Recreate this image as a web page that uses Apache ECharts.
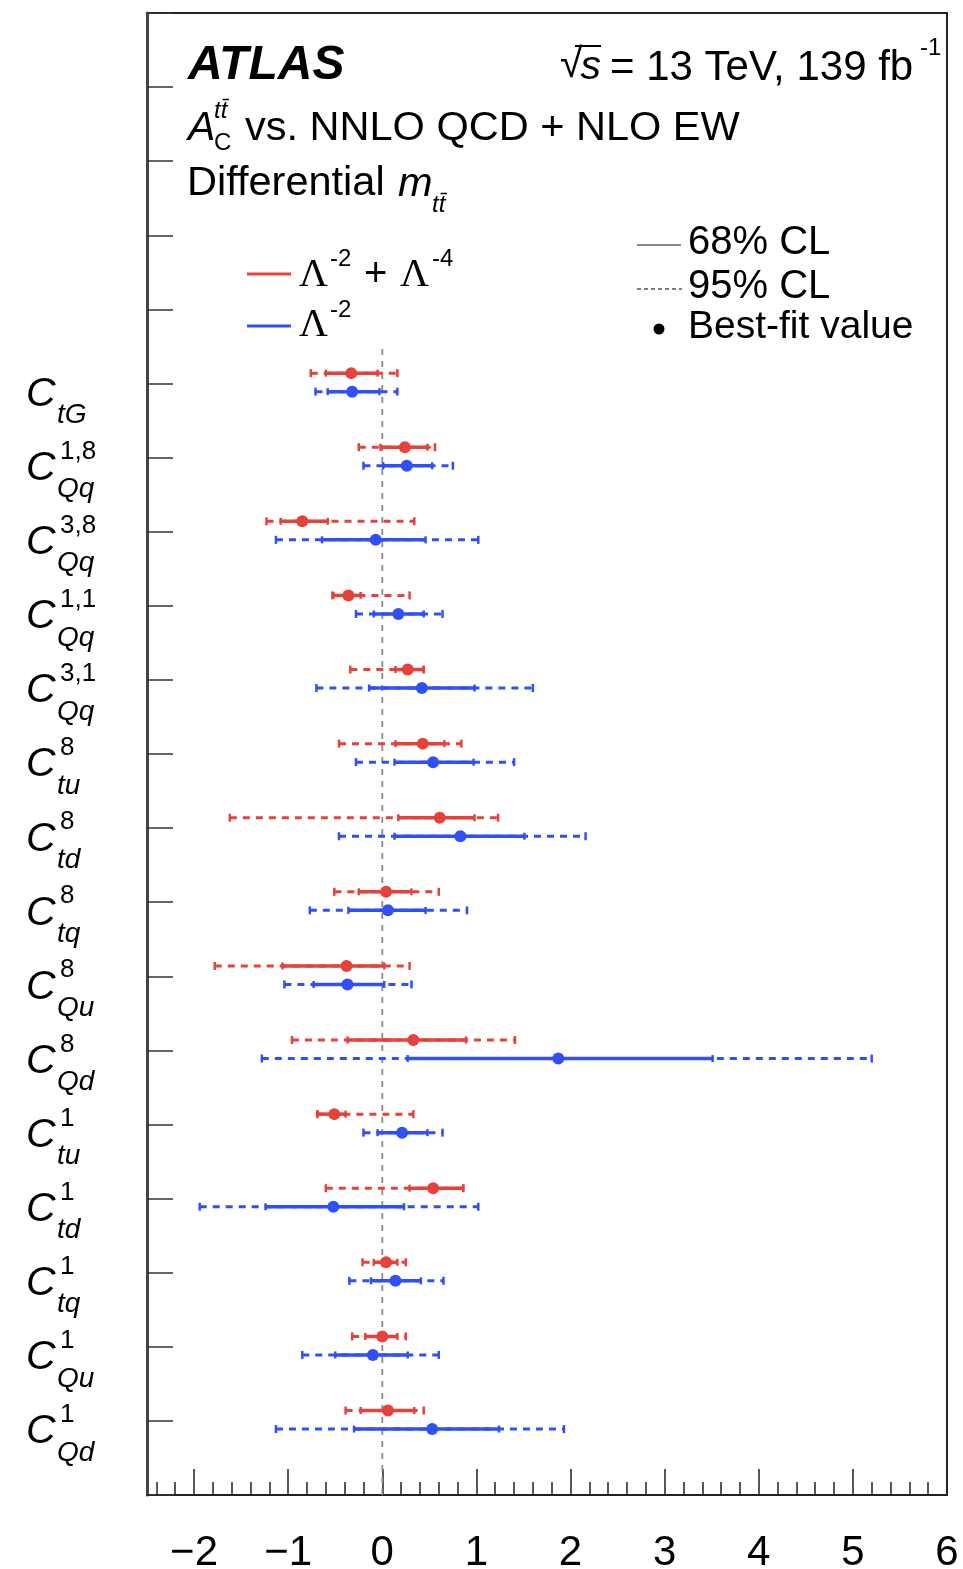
<!doctype html>
<html lang="en">
  <head>
    <meta charset="UTF-8" />
    <title>SMEFT limits</title>
    <script src="https://cdn.jsdelivr.net/npm/echarts@6/dist/echarts.min.js"></script>
    <style>
      html, body { margin: 0; padding: 0; background: #fff; }
    </style>
  </head>
  <body>
    <div id="chart" style="width: 963px; height: 1569px"></div>
    <script>
      // coefficient labels, top to bottom
      const coefSup = ['', '1,8', '3,8', '1,1', '3,1', '8', '8', '8', '8', '8', '1', '1', '1', '1', '1'];
      const coefSub = ['tG', 'Qq', 'Qq', 'Qq', 'Qq', 'tu', 'td', 'tq', 'Qu', 'Qd', 'tu', 'td', 'tq', 'Qu', 'Qd'];
      const rowPos = [15, 14, 13, 12, 11, 10, 9, 8, 7, 6, 5, 4, 3, 2, 1];

      // Lambda^-2 + Lambda^-4 (red)
      const quadBest = [-0.33, 0.24, -0.85, -0.36, 0.27, 0.43, 0.61, 0.04, -0.38, 0.33, -0.51, 0.54, 0.04, 0.0, 0.06];
      const quadLo68 = [-0.6, -0.02, -1.08, -0.52, 0.14, 0.14, 0.17, -0.25, -1.06, -0.37, -0.69, 0.29, -0.09, -0.18, -0.23];
      const quadHi68 = [-0.05, 0.48, -0.58, -0.23, 0.44, 0.66, 0.98, 0.31, 0.02, 0.89, -0.39, 0.86, 0.16, 0.16, 0.34];
      const quadLo95 = [-0.76, -0.25, -1.23, -0.53, -0.34, -0.46, -1.62, -0.51, -1.78, -0.96, -0.69, -0.6, -0.21, -0.32, -0.39];
      const quadHi95 = [0.16, 0.56, 0.34, 0.29, 0.44, 0.84, 1.23, 0.6, 0.29, 1.41, 0.33, 0.86, 0.25, 0.25, 0.44];

      // Lambda^-2 only (blue)
      const linBest = [-0.32, 0.26, -0.07, 0.17, 0.42, 0.54, 0.83, 0.06, -0.37, 1.87, 0.21, -0.52, 0.14, -0.1, 0.53];
      const linLo68 = [-0.58, 0.01, -0.64, -0.09, -0.14, 0.13, 0.13, -0.36, -0.73, 0.27, -0.05, -1.24, -0.12, -0.5, -0.3];
      const linHi68 = [-0.03, 0.53, 0.46, 0.44, 0.98, 0.97, 1.51, 0.46, 0.02, 3.51, 0.48, 0.23, 0.41, 0.27, 1.24];
      const linLo95 = [-0.71, -0.2, -1.13, -0.28, -0.7, -0.28, -0.46, -0.77, -1.04, -1.28, -0.2, -1.94, -0.35, -0.85, -1.13];
      const linHi95 = [0.16, 0.75, 1.02, 0.64, 1.6, 1.4, 2.16, 0.9, 0.31, 5.2, 0.64, 1.02, 0.65, 0.6, 1.93];

      const xTicks = [-2, -1, 0, 1, 2, 3, 4, 5, 6];

      const RED = '#e6413a';
      const BLUE = '#3050f5';
      const SANS = '"Liberation Sans", Arial, Helvetica, sans-serif';
      const SERIF = '"Liberation Serif", "Times New Roman", serif';

      const minorTicks = [];
      for (let k = -24; k <= 60; k += 2) {
        if (k % 10 !== 0) minorTicks.push(k / 10);
      }

      function buildRows(best, lo68, hi68, lo95, hi95, shift) {
        return rowPos.map((p, i) => [best[i], p + shift, lo95[i], hi95[i], lo68[i], hi68[i]]);
      }

      function errorBars(color) {
        return function (params, api) {
          const y = api.value(1);
          const pt = (v) => api.coord([v, y]);
          const b = pt(api.value(0));
          const a95 = pt(api.value(2));
          const b95 = pt(api.value(3));
          const a68 = pt(api.value(4));
          const b68 = pt(api.value(5));
          const cap = (p, h, w) => ({
            type: 'line',
            shape: { x1: p[0], y1: p[1] - h, x2: p[0], y2: p[1] + h },
            style: { stroke: color, lineWidth: w },
          });
          return {
            type: 'group',
            children: [
              {
                type: 'line',
                shape: { x1: a95[0], y1: a95[1], x2: b95[0], y2: b95[1] },
                style: { stroke: color, lineWidth: 3, lineDash: [7, 6] },
              },
              cap(a95, 4, 2.5),
              cap(b95, 4, 2.5),
              {
                type: 'line',
                shape: { x1: a68[0], y1: a68[1], x2: b68[0], y2: b68[1] },
                style: { stroke: color, lineWidth: 3.5 },
              },
              cap(a68, 3.5, 2.5),
              cap(b68, 3.5, 2.5),
              { type: 'circle', shape: { cx: b[0], cy: b[1], r: 6 }, style: { fill: color } },
            ],
          };
        };
      }

      function label(get, v) {
        const k = rowPos.indexOf(v);
        return k < 0 ? '' : '{t|' + get(k) + '}';
      }

      function txt(text, x, y, size, extra) {
        return {
          type: 'text',
          x: x,
          y: y,
          silent: true,
          style: Object.assign(
            {
              text: text,
              fontSize: size,
              fontFamily: SANS,
              fill: '#000',
              align: 'left',
              verticalAlign: 'middle',
            },
            extra || {}
          ),
        };
      }

      const yBase = {
        type: 'value',
        position: 'left',
        offset: 0,
        min: 0,
        max: 20,
        interval: 1,
        splitLine: { show: false },
      };

      const chart = echarts.init(document.getElementById('chart'));
      chart.setOption({
        animation: false,
        backgroundColor: '#fff',
        grid: {
          left: 147,
          right: 16,
          top: 13,
          bottom: 74,
          containLabel: false,
          outerBoundsMode: 'none',
          show: true,
          borderColor: '#222',
          borderWidth: 2,
        },
        xAxis: [
          {
            type: 'value',
            min: -2.5,
            max: 6,
            position: 'bottom',
            splitLine: { show: false },
            axisLine: { show: true, onZero: false, lineStyle: { color: '#222', width: 2 } },
            axisTick: {
              show: true,
              inside: true,
              length: 26,
              customValues: xTicks,
              lineStyle: { color: '#222', width: 1.5 },
            },
            axisLabel: {
              customValues: xTicks,
              fontSize: 42,
              fontFamily: SANS,
              color: '#000',
              margin: 37,
              formatter: (v) => (v < 0 ? '\u2212' + Math.abs(v) : String(v)),
            },
          },
          {
            type: 'value',
            min: -2.5,
            max: 6,
            position: 'bottom',
            splitLine: { show: false },
            axisLine: { show: false, onZero: false },
            axisTick: {
              show: true,
              inside: true,
              length: 13,
              customValues: minorTicks,
              lineStyle: { color: '#222', width: 1.5 },
            },
            axisLabel: { show: false },
          },
        ],
        yAxis: [
          Object.assign({}, yBase, {
            axisLine: { show: true, onZero: false, lineStyle: { color: '#444', width: 3 } },
            axisTick: { show: true, inside: true, length: 26, lineStyle: { color: '#333', width: 1.5 } },
            axisLabel: {
              formatter: (v) => label(() => 'C', v),
              align: 'left',
              margin: 121,
              rich: {
                t: {
                  fontSize: 41,
                  fontStyle: 'italic',
                  fontFamily: SANS,
                  color: '#000',
                  padding: [22, 0, 0, 0],
                },
              },
            },
          }),
          Object.assign({}, yBase, {
            axisLine: { show: false, onZero: false },
            axisTick: { show: false },
            axisLabel: {
              formatter: (v) => label((k) => coefSup[k], v),
              align: 'left',
              margin: 87,
              rich: {
                t: { fontSize: 26, fontFamily: SANS, color: '#000', padding: [0, 0, 12, 0] },
              },
            },
          }),
          Object.assign({}, yBase, {
            axisLine: { show: false, onZero: false },
            axisTick: { show: false },
            axisLabel: {
              formatter: (v) => label((k) => coefSub[k], v),
              align: 'left',
              margin: 90,
              rich: {
                t: {
                  fontSize: 28,
                  fontStyle: 'italic',
                  fontFamily: SANS,
                  color: '#000',
                  padding: [64, 0, 0, 0],
                },
              },
            },
          }),
        ],
        series: [
          {
            name: 'zero',
            type: 'line',
            data: [
              [0, 0],
              [0, 15.5],
            ],
            symbol: 'none',
            silent: true,
            z: 1,
            lineStyle: { color: '#8a8a8a', width: 1.8, type: [6, 6] },
          },
          {
            name: 'quad',
            type: 'custom',
            z: 3,
            renderItem: errorBars(RED),
            encode: { x: 0, y: 1 },
            data: buildRows(quadBest, quadLo68, quadHi68, quadLo95, quadHi95, 0.14),
          },
          {
            name: 'lin',
            type: 'custom',
            z: 3,
            renderItem: errorBars(BLUE),
            encode: { x: 0, y: 1 },
            data: buildRows(linBest, linLo68, linHi68, linLo95, linHi95, -0.11),
          },
        ],
        graphic: [
          txt('ATLAS', 188, 66, 48, { fontWeight: 'bold', fontStyle: 'italic' }),
          txt('\u221A', 560, 66, 41),
          { type: 'line', silent: true, shape: { x1: 575, y1: 46, x2: 601, y2: 46 }, style: { stroke: '#000', lineWidth: 2 } },
          txt('s', 601, 68, 41, { fontStyle: 'italic', align: 'right' }),
          txt('= 13 TeV, 139 fb', 610, 68, 42),
          txt('-1', 920, 48, 24),
          txt('A', 188, 129, 41, { fontStyle: 'italic' }),
          txt('tt\u0304', 214, 111, 24, { fontStyle: 'italic' }),
          txt('C', 214, 143, 24),
          txt('vs. NNLO QCD + NLO EW', 245, 129, 41.5),
          txt('Differential', 187, 184, 41.5),
          txt('m', 398, 184, 41.5, { fontStyle: 'italic' }),
          txt('tt\u0304', 432, 205, 24, { fontStyle: 'italic' }),
          { type: 'line', silent: true, shape: { x1: 247, y1: 274, x2: 291, y2: 274 }, style: { stroke: RED, lineWidth: 3 } },
          txt('\u039B', 299, 275, 40, { fontFamily: SERIF }),
          txt('-2', 330, 259, 24),
          txt('+', 364, 275, 40),
          txt('\u039B', 400, 275, 40, { fontFamily: SERIF }),
          txt('-4', 432, 259, 24),
          { type: 'line', silent: true, shape: { x1: 247, y1: 326, x2: 291, y2: 326 }, style: { stroke: BLUE, lineWidth: 3 } },
          txt('\u039B', 299, 325, 40, { fontFamily: SERIF }),
          txt('-2', 330, 310, 24),
          { type: 'line', silent: true, shape: { x1: 637, y1: 245, x2: 681, y2: 245 }, style: { stroke: '#888', lineWidth: 2 } },
          txt('68% CL', 688, 243, 40),
          {
            type: 'line',
            silent: true,
            shape: { x1: 637, y1: 289, x2: 682, y2: 289 },
            style: { stroke: '#555', lineWidth: 1.5, lineDash: [4, 3] },
          },
          txt('95% CL', 688, 287, 40),
          { type: 'circle', silent: true, shape: { cx: 659, cy: 329, r: 5.5 }, style: { fill: '#000' } },
          txt('Best-fit value', 688, 327, 39),
        ],
      });
    </script>
  </body>
</html>
